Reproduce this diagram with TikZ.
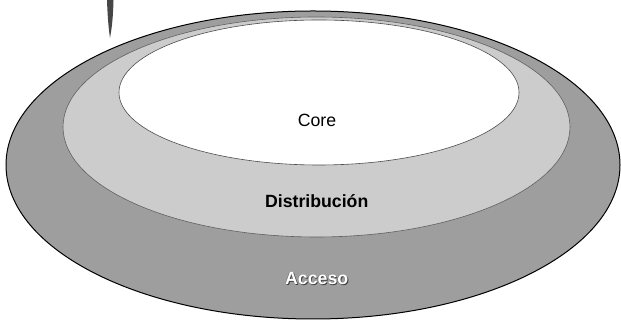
\documentclass[tikz,border=0pt]{standalone}
\usepackage{fontspec}
\setmainfont{Liberation Sans}
\definecolor{accgray}{RGB}{158,158,158}
\definecolor{disgray}{RGB}{204,204,204}
\definecolor{scanmark}{RGB}{70,70,70}
\begin{document}
\begin{tikzpicture}[x=1pt,y=1pt,
  lbl/.style={font=\fontsize{17.7}{20}\selectfont, anchor=base, inner sep=0pt},
  layer/.style={line width=0.6pt}]
\useasboundingbox (0,0) rectangle (621,320);
% scan mark
\fill[scanmark] (107,320) -- (113.5,320) .. controls (113,300) and (111.5,290) .. (110,282) .. controls (108.5,292) and (107.5,305) .. cycle;
% outer layer (Acceso)
\filldraw[accgray, draw=black, line width=1pt] (313,155) ellipse [x radius=307, y radius=154];
% middle layer (Distribucion)
\filldraw[disgray, draw=gray!75!black, layer] (316.5,193) ellipse [x radius=253.5, y radius=110];
% inner layer (Core)
\filldraw[white, draw=gray!60!black, layer] (319,227.5) ellipse [x radius=200, y radius=72.5];
% labels
\node[lbl] (core) at (317,193.3) {Core};
\node[lbl, font=\fontsize{17.7}{20}\selectfont\bfseries] (dist) at (316.7,112.7) {Distribución};
\node[lbl, font=\fontsize{17.7}{20}\selectfont\bfseries, text=black!75] (accs1) at (317.6,34.2) {Acceso};
\node[lbl, font=\fontsize{17.7}{20}\selectfont\bfseries, text=black!60] (accs2) at (316.2,35.6) {Acceso};
\node[lbl, font=\fontsize{17.7}{20}\selectfont\bfseries, text=white] (acc) at (316.7,35) {Acceso};
\end{tikzpicture}
\end{document}
